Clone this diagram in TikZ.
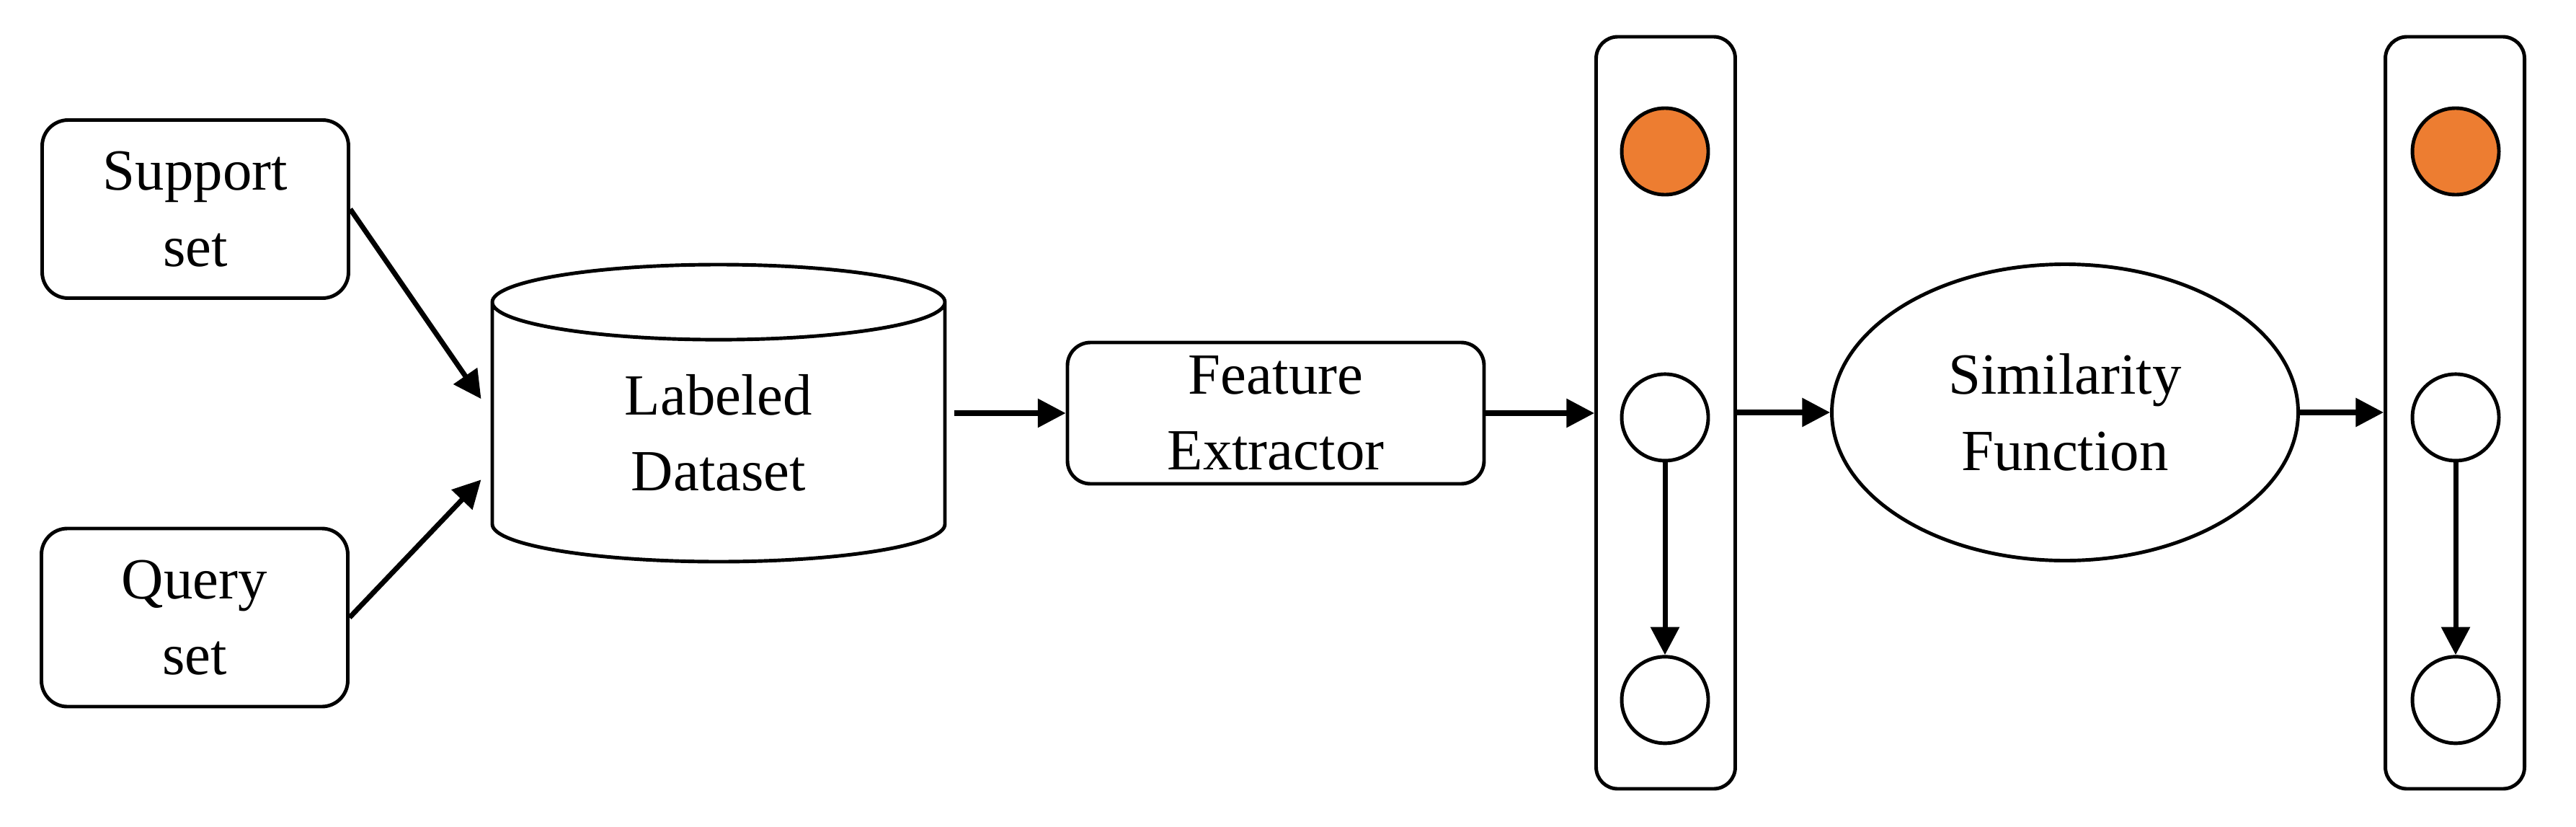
\documentclass[tikz,border=0pt]{standalone}
\usepackage{fontspec}
\setmainfont{Liberation Serif}
\usepackage{xcolor}
\usepackage{tikz}
\usetikzlibrary{shapes,shapes.geometric,arrows.meta,positioning,calc}
\definecolor{vecorange}{HTML}{ED7D31}
\tikzset{
  txt/.style = {align=center, inner sep=0pt, font=\fontsize{23}{30}\selectfont},
  inbox/.style = {txt, draw, line width=1.4pt, rounded corners=0.36cm, minimum width=4.25cm, minimum height=2.47cm},
  febox/.style = {txt, draw, line width=1.4pt, rounded corners=0.32cm, minimum width=5.78cm, minimum height=1.96cm},
  dbase/.style = {txt, draw, line width=1.4pt, cylinder, shape border rotate=90, aspect=0.40, minimum width=6.28cm, minimum height=4.12cm, anchor=shape center},
  simnode/.style = {txt, draw, line width=1.4pt, ellipse, minimum width=6.47cm, minimum height=4.11cm},
  vecbox/.style = {draw, line width=1.4pt, rounded corners=0.3cm, minimum width=1.93cm, minimum height=10.43cm},
  vec_o/.style = {circle, draw, line width=1.4pt, fill=vecorange, minimum size=1.2cm},
  vec_w/.style = {circle, draw, line width=1.4pt, fill=white, minimum size=1.2cm},
  arr/.style = {-{Triangle[length=11pt,width=11pt]}, line width=2pt}
}
\begin{document}
\begin{tikzpicture}
	\useasboundingbox (0,0) rectangle (35.74,-11.46);
	\node[inbox] (sup) at (2.71,-2.90) {Support\\set};
	\node[inbox] (qry) at (2.70,-8.565) {Query\\set};
	\node[dbase] (data) at (9.97,-5.73) {Labeled\\Dataset};
	\node[febox] (fe) at (17.70,-5.73) {Feature\\Extractor};
	\node[vecbox] (v1) at (23.11,-5.725) {};
	\node[vec_o] (o1) at (23.10,-2.10) {};
	\node[vec_w] (m1) [below=2.44cm of o1] {};
	\node[vec_w] (b1) [below=2.67cm of m1] {};
	\node[simnode] (sim) at (28.65,-5.72) {Similarity\\Function};
	\node[vecbox] (v2) at (34.06,-5.725) {};
	\node[vec_o] (o2) at (34.07,-2.10) {};
	\node[vec_w] (m2) [below=2.44cm of o2] {};
	\node[vec_w] (b2) [below=2.67cm of m2] {};
	\draw[arr] (sup.east) -- ([xshift=-1.3mm,yshift=4.7mm]data.west);
	\draw[arr] (qry.east) -- ([xshift=-1.3mm,yshift=-6.5mm]data.west);
	\draw[arr] ([xshift=1mm]fe.west -| data.east) -- (fe.west);
	\draw[arr] (fe.east) -- (fe.east -| v1.west);
	\draw[arr] (v1.east |- sim.west) -- (sim.west);
	\draw[arr] (sim.east) -- (sim.east -| v2.west);
	\draw[arr] (m1.south) -- (b1.north);
	\draw[arr] (m2.south) -- (b2.north);
\end{tikzpicture}
\end{document}
